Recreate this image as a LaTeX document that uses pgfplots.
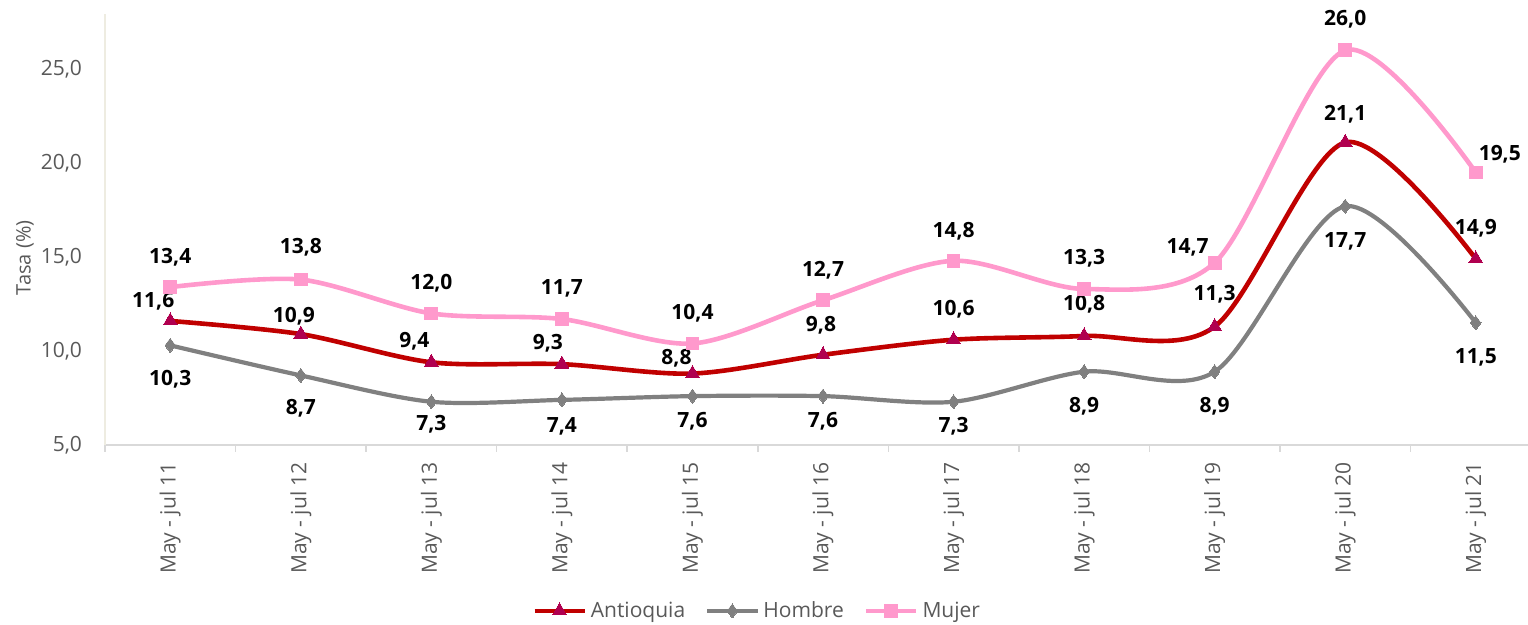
\documentclass[border=0pt]{standalone}
\usepackage{pgfplots}
\pgfplotsset{compat=1.18}
\usepackage{pgfplotstable}
\usepackage{fontspec}
\setmainfont{Open Sans}
\definecolor{antq}{HTML}{C00000}
\definecolor{antqm}{HTML}{B0004F}
\definecolor{homb}{HTML}{808080}
\definecolor{muj}{HTML}{FF99CC}
\definecolor{txtgray}{HTML}{595959}
\definecolor{axgray}{HTML}{D9D9D9}
\definecolor{axcream}{HTML}{EEECE1}

% label offsets dx, dy in pt (label centre relative to point)
\pgfplotstableread{
x y dx dy
0 11.6 -8.5 10
1 10.9 -3.5 9
2 9.4 -8.5 10.5
3 9.3 -7 10.5
4 8.8 -8 7.5
5 9.8 -1 15
6 10.6 0 15
7 10.8 0 16
8 11.3 0 16
9 21.1 0 14
10 14.9 0 15.5
}\antioquia
\pgfplotstableread{
x y dx dy
0 10.3 0 -17
1 8.7 0 -16.5
2 7.3 0 -11
3 7.4 0 -13
4 7.6 0 -12.5
5 7.6 0 -12.5
6 7.3 0 -12
7 8.9 0 -17.5
8 8.9 0 -17.5
9 17.7 0 -17.5
10 11.5 0 -17.5
}\hombre
\pgfplotstableread{
x y dx dy
0 13.4 0 15
1 13.8 0 16
2 12.0 0 15
3 11.7 0 15.5
4 10.4 0 15
5 12.7 0 15
6 14.8 0 15
7 13.3 0 15.5
8 14.7 -13.5 7.5
9 26.0 0 15.5
10 19.5 12 9
}\mujer

\begin{document}
\begin{tikzpicture}
\begin{axis}[
  name=ax, at={(0,0)}, anchor=south west,
  scale only axis, width=711.5pt, height=215.5pt,
  xmin=-0.5, xmax=10.4, ymin=5, ymax=27.93,
  clip=false,
  axis x line*=bottom, axis y line*=left,
  axis line style={-},
  x axis line style={-, draw=axgray, line width=1pt},
  y axis line style={-, draw=axcream, line width=0.8pt},
  xtick={0,...,10},
  xticklabels={May - jul 11,May - jul 12,May - jul 13,May - jul 14,May - jul 15,May - jul 16,May - jul 17,May - jul 18,May - jul 19,May - jul 20,May - jul 21},
  minor xtick={-0.5,0.5,...,9.5},
  ytick={5,10,15,20,25},
  major tick length=0pt,
  minor tick length=3.5pt,
  tick align=outside,
  every minor tick/.style={draw=axgray, line width=0.8pt},
  /pgf/number format/assume math mode=true,
  yticklabel={\pgfmathprintnumber[fixed,fixed zerofill,precision=1,use comma]{\tick}},
  yticklabel style={font=\fontsize{10.5}{12}\selectfont, text=txtgray, anchor=east, xshift=-8pt},
  xticklabel style={font=\fontsize{10.5}{12}\selectfont, text=txtgray, rotate=90, anchor=east},
  xticklabel shift=5pt,
  ylabel={Tasa (\%)},
  every axis y label/.style={at={(axis description cs:-0.0562,0.434)}, rotate=90, anchor=center, font=\fontsize{10}{12}\selectfont, text=txtgray},
  legend style={at={(axis description cs:0.459,-0.385)}, anchor=center, draw=none, fill=none,
    font=\fontsize{10.5}{12}\selectfont, text=txtgray, legend columns=-1,
    /tikz/every even column/.append style={column sep=8pt},
    inner sep=0pt},
  legend image code/.code={\draw[mark repeat=2,mark phase=2,#1] plot coordinates {(0pt,0pt) (12.5pt,0pt) (25pt,0pt)};},
  visualization depends on={\thisrow{dx}\as\dx},
  visualization depends on={\thisrow{dy}\as\dy},
  nodes near coords={\pgfmathprintnumber[fixed,fixed zerofill,precision=1,use comma]{\pgfplotspointmeta}},
  nodes near coords style={font=\bfseries\fontsize{10.5}{12}\selectfont, text=black, anchor=center, xshift=\dx pt, yshift=\dy pt},
]
\addplot[antq, line width=2.3pt, smooth, mark=triangle*, mark size=4pt,
  mark options={solid, fill=antqm, draw=antqm, line width=0pt}] table[x=x,y=y] {\antioquia};
\addlegendentry{Antioquia}
\addplot[homb, line width=2.1pt, smooth, mark=diamond*, mark size=3.5pt,
  mark options={solid, fill=homb, draw=homb, line width=0pt}] table[x=x,y=y] {\hombre};
\addlegendentry{Hombre}
\addplot[muj, line width=2.3pt, smooth, mark=square*, mark size=3.2pt,
  mark options={solid, fill=muj, draw=muj, line width=0pt}] table[x=x,y=y] {\mujer};
\addlegendentry{Mujer}
\end{axis}
\pgfresetboundingbox
\path[use as bounding box] (-52.5pt,-90pt) rectangle (711.5pt,222.5pt);
\end{tikzpicture}
\end{document}
